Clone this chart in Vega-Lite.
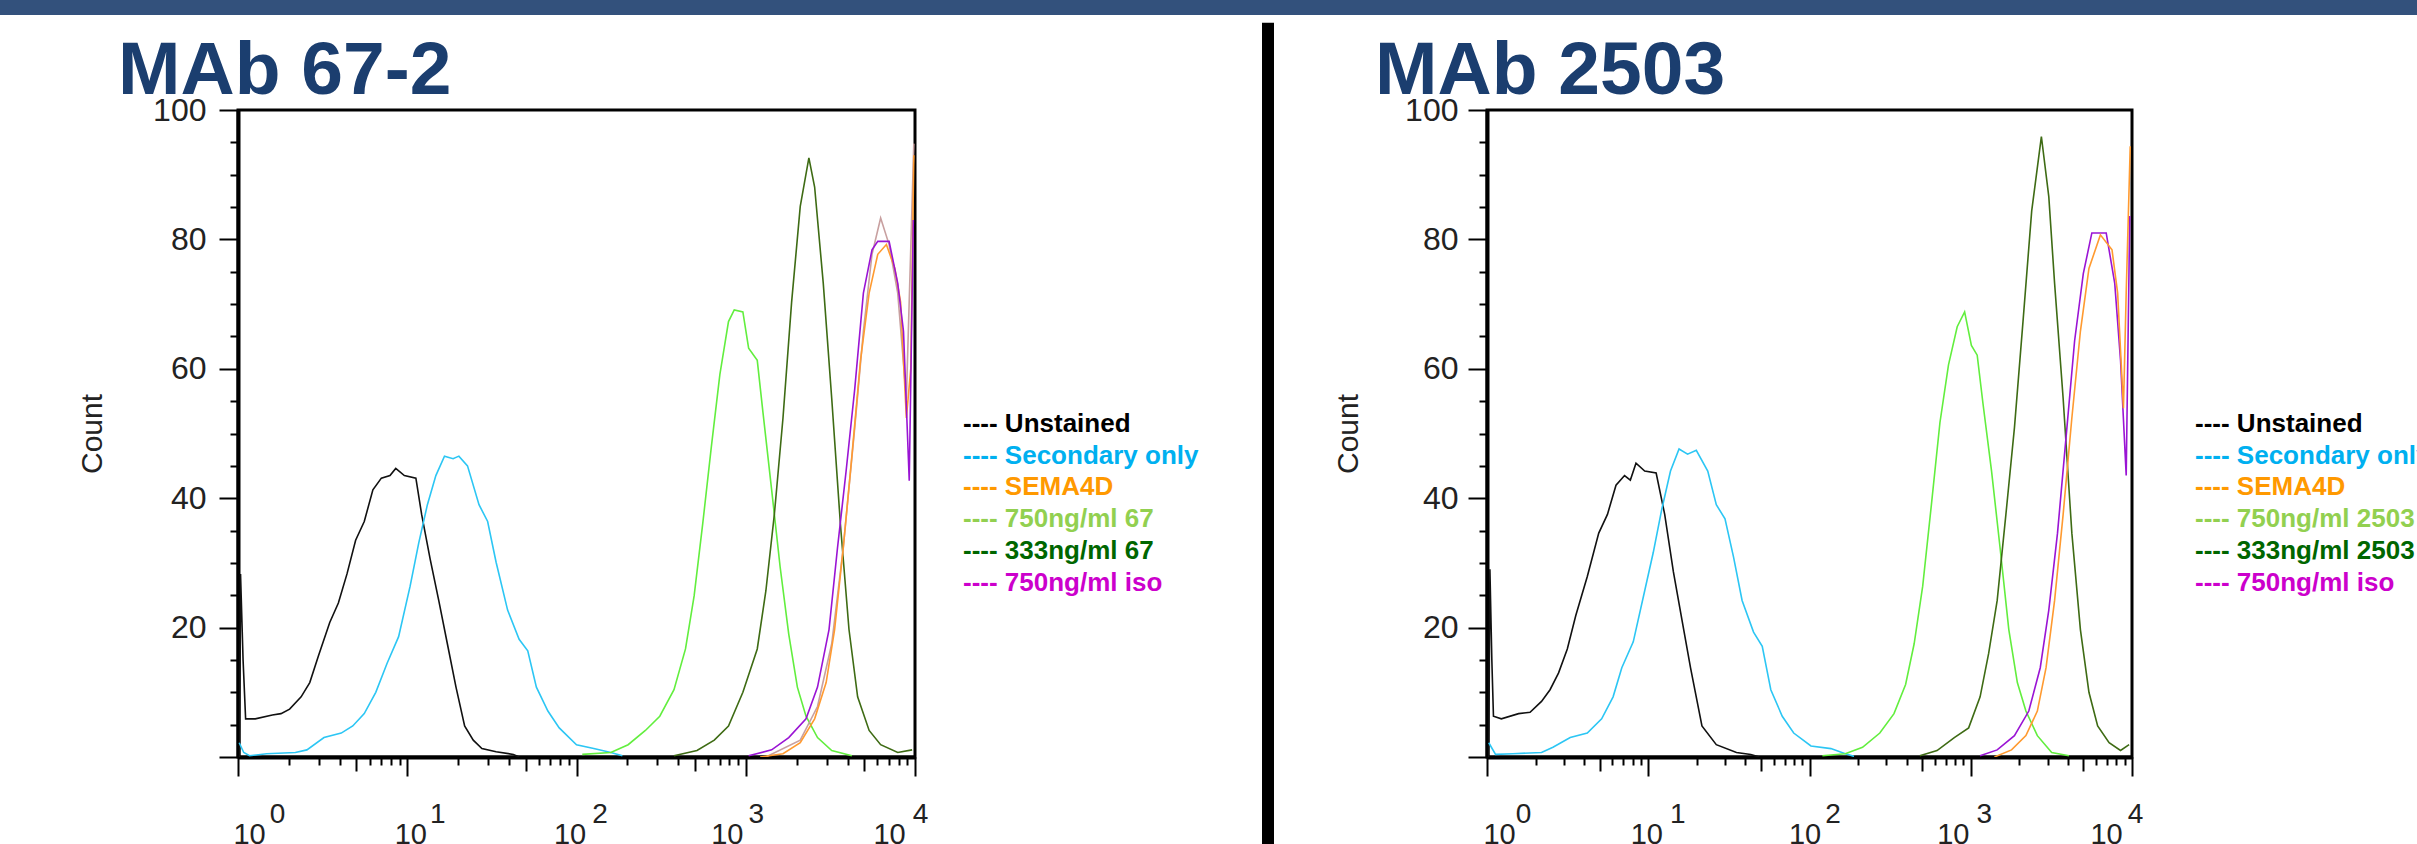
{
  "$schema": "https://vega.github.io/schema/vega-lite/v6.json",
  "padding": 0,
  "autosize": {"type": "pad"},
  "background": "white",
  "config": {
    "view": {"stroke": null},
    "font": "Liberation Sans",
    "axis": {"grid": false}
  },
  "datasets": {
    "exponents": [{"logFL": 0}, {"logFL": 1}, {"logFL": 2}, {"logFL": 3}, {"logFL": 4}],
    "left_legend": [
      {"series": "Unstained", "entry": "---- Unstained"},
      {"series": "Secondary only", "entry": "---- Secondary only"},
      {"series": "SEMA4D", "entry": "---- SEMA4D"},
      {"series": "750ng/ml 67", "entry": "---- 750ng/ml 67"},
      {"series": "333ng/ml 67", "entry": "---- 333ng/ml 67"},
      {"series": "750ng/ml iso", "entry": "---- 750ng/ml iso"}
    ],
    "right_legend": [
      {"series": "Unstained", "entry": "---- Unstained"},
      {"series": "Secondary only", "entry": "---- Secondary only"},
      {"series": "SEMA4D", "entry": "---- SEMA4D"},
      {"series": "750ng/ml 2503", "entry": "---- 750ng/ml 2503"},
      {"series": "333ng/ml 2503", "entry": "---- 333ng/ml 2503"},
      {"series": "750ng/ml iso", "entry": "---- 750ng/ml iso"}
    ],
    "left_curves": [
      {"series": "Unstained", "logFL": 0.010, "count": 0},
      {"series": "Unstained", "logFL": 0.015, "count": 28.3},
      {"series": "Unstained", "logFL": 0.030, "count": 15.0},
      {"series": "Unstained", "logFL": 0.045, "count": 5.9},
      {"series": "Unstained", "logFL": 0.102, "count": 5.9},
      {"series": "Unstained", "logFL": 0.203, "count": 6.5},
      {"series": "Unstained", "logFL": 0.254, "count": 6.7},
      {"series": "Unstained", "logFL": 0.305, "count": 7.4},
      {"series": "Unstained", "logFL": 0.373, "count": 9.3},
      {"series": "Unstained", "logFL": 0.424, "count": 11.5},
      {"series": "Unstained", "logFL": 0.475, "count": 15.6},
      {"series": "Unstained", "logFL": 0.542, "count": 20.8},
      {"series": "Unstained", "logFL": 0.593, "count": 23.8},
      {"series": "Unstained", "logFL": 0.644, "count": 28.3},
      {"series": "Unstained", "logFL": 0.695, "count": 33.5},
      {"series": "Unstained", "logFL": 0.746, "count": 36.4},
      {"series": "Unstained", "logFL": 0.797, "count": 41.3},
      {"series": "Unstained", "logFL": 0.847, "count": 43.1},
      {"series": "Unstained", "logFL": 0.898, "count": 43.5},
      {"series": "Unstained", "logFL": 0.932, "count": 44.6},
      {"series": "Unstained", "logFL": 0.983, "count": 43.5},
      {"series": "Unstained", "logFL": 1.051, "count": 43.1},
      {"series": "Unstained", "logFL": 1.085, "count": 37.5},
      {"series": "Unstained", "logFL": 1.136, "count": 30.5},
      {"series": "Unstained", "logFL": 1.186, "count": 24.2},
      {"series": "Unstained", "logFL": 1.237, "count": 17.5},
      {"series": "Unstained", "logFL": 1.288, "count": 10.8},
      {"series": "Unstained", "logFL": 1.339, "count": 4.8},
      {"series": "Unstained", "logFL": 1.390, "count": 2.6},
      {"series": "Unstained", "logFL": 1.441, "count": 1.3},
      {"series": "Unstained", "logFL": 1.525, "count": 0.8},
      {"series": "Unstained", "logFL": 1.627, "count": 0.4},
      {"series": "Unstained", "logFL": 1.661, "count": 0},
      {"series": "Secondary only", "logFL": 0.007, "count": 2.2},
      {"series": "Secondary only", "logFL": 0.034, "count": 0.7},
      {"series": "Secondary only", "logFL": 0.068, "count": 0.2},
      {"series": "Secondary only", "logFL": 0.169, "count": 0.5},
      {"series": "Secondary only", "logFL": 0.339, "count": 0.7},
      {"series": "Secondary only", "logFL": 0.407, "count": 1.1},
      {"series": "Secondary only", "logFL": 0.508, "count": 3.0},
      {"series": "Secondary only", "logFL": 0.610, "count": 3.7},
      {"series": "Secondary only", "logFL": 0.678, "count": 4.8},
      {"series": "Secondary only", "logFL": 0.746, "count": 6.7},
      {"series": "Secondary only", "logFL": 0.814, "count": 10.0},
      {"series": "Secondary only", "logFL": 0.881, "count": 14.5},
      {"series": "Secondary only", "logFL": 0.949, "count": 18.6},
      {"series": "Secondary only", "logFL": 1.017, "count": 26.4},
      {"series": "Secondary only", "logFL": 1.068, "count": 33.1},
      {"series": "Secondary only", "logFL": 1.119, "count": 39.0},
      {"series": "Secondary only", "logFL": 1.169, "count": 43.5},
      {"series": "Secondary only", "logFL": 1.220, "count": 46.5},
      {"series": "Secondary only", "logFL": 1.271, "count": 46.1},
      {"series": "Secondary only", "logFL": 1.305, "count": 46.5},
      {"series": "Secondary only", "logFL": 1.356, "count": 45.0},
      {"series": "Secondary only", "logFL": 1.424, "count": 39.0},
      {"series": "Secondary only", "logFL": 1.475, "count": 36.4},
      {"series": "Secondary only", "logFL": 1.525, "count": 30.1},
      {"series": "Secondary only", "logFL": 1.593, "count": 22.7},
      {"series": "Secondary only", "logFL": 1.661, "count": 18.2},
      {"series": "Secondary only", "logFL": 1.712, "count": 16.4},
      {"series": "Secondary only", "logFL": 1.763, "count": 10.8},
      {"series": "Secondary only", "logFL": 1.831, "count": 7.1},
      {"series": "Secondary only", "logFL": 1.898, "count": 4.5},
      {"series": "Secondary only", "logFL": 2.000, "count": 1.9},
      {"series": "Secondary only", "logFL": 2.102, "count": 1.3},
      {"series": "Secondary only", "logFL": 2.203, "count": 0.7},
      {"series": "Secondary only", "logFL": 2.271, "count": 0.2},
      {"series": "750ng/ml 67", "logFL": 2.034, "count": 0.4},
      {"series": "750ng/ml 67", "logFL": 2.203, "count": 0.7},
      {"series": "750ng/ml 67", "logFL": 2.305, "count": 1.9},
      {"series": "750ng/ml 67", "logFL": 2.407, "count": 4.1},
      {"series": "750ng/ml 67", "logFL": 2.492, "count": 6.3},
      {"series": "750ng/ml 67", "logFL": 2.576, "count": 10.4},
      {"series": "750ng/ml 67", "logFL": 2.644, "count": 16.7},
      {"series": "750ng/ml 67", "logFL": 2.695, "count": 24.9},
      {"series": "750ng/ml 67", "logFL": 2.746, "count": 36.1},
      {"series": "750ng/ml 67", "logFL": 2.797, "count": 48.0},
      {"series": "750ng/ml 67", "logFL": 2.847, "count": 59.1},
      {"series": "750ng/ml 67", "logFL": 2.898, "count": 67.3},
      {"series": "750ng/ml 67", "logFL": 2.932, "count": 69.1},
      {"series": "750ng/ml 67", "logFL": 2.983, "count": 68.8},
      {"series": "750ng/ml 67", "logFL": 3.017, "count": 63.2},
      {"series": "750ng/ml 67", "logFL": 3.068, "count": 61.3},
      {"series": "750ng/ml 67", "logFL": 3.102, "count": 53.2},
      {"series": "750ng/ml 67", "logFL": 3.153, "count": 41.3},
      {"series": "750ng/ml 67", "logFL": 3.203, "count": 29.4},
      {"series": "750ng/ml 67", "logFL": 3.254, "count": 19.0},
      {"series": "750ng/ml 67", "logFL": 3.305, "count": 10.8},
      {"series": "750ng/ml 67", "logFL": 3.356, "count": 6.3},
      {"series": "750ng/ml 67", "logFL": 3.424, "count": 3.0},
      {"series": "750ng/ml 67", "logFL": 3.508, "count": 1.0},
      {"series": "750ng/ml 67", "logFL": 3.627, "count": 0.2},
      {"series": "333ng/ml 67", "logFL": 2.576, "count": 0.2},
      {"series": "333ng/ml 67", "logFL": 2.712, "count": 1.0},
      {"series": "333ng/ml 67", "logFL": 2.814, "count": 2.6},
      {"series": "333ng/ml 67", "logFL": 2.898, "count": 4.8},
      {"series": "333ng/ml 67", "logFL": 2.983, "count": 10.0},
      {"series": "333ng/ml 67", "logFL": 3.068, "count": 16.7},
      {"series": "333ng/ml 67", "logFL": 3.119, "count": 25.7},
      {"series": "333ng/ml 67", "logFL": 3.169, "count": 37.5},
      {"series": "333ng/ml 67", "logFL": 3.220, "count": 52.4},
      {"series": "333ng/ml 67", "logFL": 3.271, "count": 70.3},
      {"series": "333ng/ml 67", "logFL": 3.322, "count": 85.1},
      {"series": "333ng/ml 67", "logFL": 3.373, "count": 92.6},
      {"series": "333ng/ml 67", "logFL": 3.407, "count": 88.1},
      {"series": "333ng/ml 67", "logFL": 3.458, "count": 73.2},
      {"series": "333ng/ml 67", "logFL": 3.508, "count": 55.4},
      {"series": "333ng/ml 67", "logFL": 3.559, "count": 36.1},
      {"series": "333ng/ml 67", "logFL": 3.610, "count": 19.7},
      {"series": "333ng/ml 67", "logFL": 3.661, "count": 9.3},
      {"series": "333ng/ml 67", "logFL": 3.729, "count": 4.1},
      {"series": "333ng/ml 67", "logFL": 3.797, "count": 1.9},
      {"series": "333ng/ml 67", "logFL": 3.898, "count": 0.7},
      {"series": "333ng/ml 67", "logFL": 3.983, "count": 1.1},
      {"series": "Other", "logFL": 3.119, "count": 0},
      {"series": "Other", "logFL": 3.322, "count": 2.6},
      {"series": "Other", "logFL": 3.424, "count": 7.8},
      {"series": "Other", "logFL": 3.508, "count": 17.5},
      {"series": "Other", "logFL": 3.576, "count": 32.3},
      {"series": "Other", "logFL": 3.644, "count": 50.9},
      {"series": "Other", "logFL": 3.695, "count": 65.8},
      {"series": "Other", "logFL": 3.746, "count": 77.7},
      {"series": "Other", "logFL": 3.797, "count": 83.3},
      {"series": "Other", "logFL": 3.847, "count": 79.2},
      {"series": "Other", "logFL": 3.898, "count": 71.7},
      {"series": "Other", "logFL": 3.949, "count": 55.4},
      {"series": "Other", "logFL": 3.993, "count": 94.8},
      {"series": "SEMA4D", "logFL": 3.085, "count": 0},
      {"series": "SEMA4D", "logFL": 3.220, "count": 0.5},
      {"series": "SEMA4D", "logFL": 3.322, "count": 2.2},
      {"series": "SEMA4D", "logFL": 3.407, "count": 5.9},
      {"series": "SEMA4D", "logFL": 3.475, "count": 11.5},
      {"series": "SEMA4D", "logFL": 3.525, "count": 19.7},
      {"series": "SEMA4D", "logFL": 3.576, "count": 32.3},
      {"series": "SEMA4D", "logFL": 3.627, "count": 46.5},
      {"series": "SEMA4D", "logFL": 3.678, "count": 61.3},
      {"series": "SEMA4D", "logFL": 3.729, "count": 71.7},
      {"series": "SEMA4D", "logFL": 3.780, "count": 77.7},
      {"series": "SEMA4D", "logFL": 3.831, "count": 79.2},
      {"series": "SEMA4D", "logFL": 3.881, "count": 75.5},
      {"series": "SEMA4D", "logFL": 3.915, "count": 70.3},
      {"series": "SEMA4D", "logFL": 3.949, "count": 52.4},
      {"series": "SEMA4D", "logFL": 3.975, "count": 60.0},
      {"series": "SEMA4D", "logFL": 3.993, "count": 93.0},
      {"series": "750ng/ml iso", "logFL": 3.017, "count": 0.2},
      {"series": "750ng/ml iso", "logFL": 3.153, "count": 1.1},
      {"series": "750ng/ml iso", "logFL": 3.254, "count": 3.0},
      {"series": "750ng/ml iso", "logFL": 3.356, "count": 5.9},
      {"series": "750ng/ml iso", "logFL": 3.424, "count": 10.8},
      {"series": "750ng/ml iso", "logFL": 3.492, "count": 19.7},
      {"series": "750ng/ml iso", "logFL": 3.542, "count": 32.3},
      {"series": "750ng/ml iso", "logFL": 3.593, "count": 44.2},
      {"series": "750ng/ml iso", "logFL": 3.644, "count": 56.9},
      {"series": "750ng/ml iso", "logFL": 3.695, "count": 71.7},
      {"series": "750ng/ml iso", "logFL": 3.746, "count": 78.4},
      {"series": "750ng/ml iso", "logFL": 3.780, "count": 79.7},
      {"series": "750ng/ml iso", "logFL": 3.847, "count": 79.7},
      {"series": "750ng/ml iso", "logFL": 3.898, "count": 73.2},
      {"series": "750ng/ml iso", "logFL": 3.932, "count": 65.8},
      {"series": "750ng/ml iso", "logFL": 3.966, "count": 42.7},
      {"series": "750ng/ml iso", "logFL": 3.990, "count": 83.0}
    ],
    "right_curves": [
      {"series": "Unstained", "logFL": 0.011, "count": 0},
      {"series": "Unstained", "logFL": 0.018, "count": 29.0},
      {"series": "Unstained", "logFL": 0.030, "count": 15.0},
      {"series": "Unstained", "logFL": 0.040, "count": 6.3},
      {"series": "Unstained", "logFL": 0.089, "count": 5.9},
      {"series": "Unstained", "logFL": 0.196, "count": 6.7},
      {"series": "Unstained", "logFL": 0.267, "count": 6.9},
      {"series": "Unstained", "logFL": 0.338, "count": 8.6},
      {"series": "Unstained", "logFL": 0.391, "count": 10.4},
      {"series": "Unstained", "logFL": 0.444, "count": 13.0},
      {"series": "Unstained", "logFL": 0.498, "count": 16.7},
      {"series": "Unstained", "logFL": 0.551, "count": 21.9},
      {"series": "Unstained", "logFL": 0.622, "count": 27.9},
      {"series": "Unstained", "logFL": 0.693, "count": 34.6},
      {"series": "Unstained", "logFL": 0.747, "count": 37.5},
      {"series": "Unstained", "logFL": 0.800, "count": 42.0},
      {"series": "Unstained", "logFL": 0.853, "count": 43.5},
      {"series": "Unstained", "logFL": 0.889, "count": 42.8},
      {"series": "Unstained", "logFL": 0.924, "count": 45.4},
      {"series": "Unstained", "logFL": 0.978, "count": 44.2},
      {"series": "Unstained", "logFL": 1.049, "count": 43.9},
      {"series": "Unstained", "logFL": 1.102, "count": 37.5},
      {"series": "Unstained", "logFL": 1.156, "count": 28.6},
      {"series": "Unstained", "logFL": 1.209, "count": 21.2},
      {"series": "Unstained", "logFL": 1.262, "count": 13.8},
      {"series": "Unstained", "logFL": 1.333, "count": 4.8},
      {"series": "Unstained", "logFL": 1.422, "count": 1.9},
      {"series": "Unstained", "logFL": 1.547, "count": 0.7},
      {"series": "Unstained", "logFL": 1.636, "count": 0.4},
      {"series": "Unstained", "logFL": 1.689, "count": 0},
      {"series": "Secondary only", "logFL": 0.011, "count": 2.2},
      {"series": "Secondary only", "logFL": 0.053, "count": 0.4},
      {"series": "Secondary only", "logFL": 0.160, "count": 0.5},
      {"series": "Secondary only", "logFL": 0.338, "count": 0.7},
      {"series": "Secondary only", "logFL": 0.409, "count": 1.5},
      {"series": "Secondary only", "logFL": 0.516, "count": 3.0},
      {"series": "Secondary only", "logFL": 0.622, "count": 3.7},
      {"series": "Secondary only", "logFL": 0.711, "count": 5.9},
      {"series": "Secondary only", "logFL": 0.782, "count": 9.3},
      {"series": "Secondary only", "logFL": 0.836, "count": 13.8},
      {"series": "Secondary only", "logFL": 0.907, "count": 17.8},
      {"series": "Secondary only", "logFL": 0.978, "count": 25.7},
      {"series": "Secondary only", "logFL": 1.031, "count": 31.6},
      {"series": "Secondary only", "logFL": 1.084, "count": 38.3},
      {"series": "Secondary only", "logFL": 1.138, "count": 44.2},
      {"series": "Secondary only", "logFL": 1.191, "count": 47.6},
      {"series": "Secondary only", "logFL": 1.244, "count": 46.8},
      {"series": "Secondary only", "logFL": 1.298, "count": 47.4},
      {"series": "Secondary only", "logFL": 1.369, "count": 44.2},
      {"series": "Secondary only", "logFL": 1.422, "count": 39.0},
      {"series": "Secondary only", "logFL": 1.476, "count": 36.8},
      {"series": "Secondary only", "logFL": 1.529, "count": 30.9},
      {"series": "Secondary only", "logFL": 1.582, "count": 24.2},
      {"series": "Secondary only", "logFL": 1.653, "count": 19.3},
      {"series": "Secondary only", "logFL": 1.707, "count": 17.1},
      {"series": "Secondary only", "logFL": 1.760, "count": 10.4},
      {"series": "Secondary only", "logFL": 1.831, "count": 6.3},
      {"series": "Secondary only", "logFL": 1.902, "count": 3.7},
      {"series": "Secondary only", "logFL": 2.009, "count": 1.7},
      {"series": "Secondary only", "logFL": 2.133, "count": 1.3},
      {"series": "Secondary only", "logFL": 2.222, "count": 0.5},
      {"series": "Secondary only", "logFL": 2.276, "count": 0.1},
      {"series": "750ng/ml 2503", "logFL": 2.080, "count": 0.2},
      {"series": "750ng/ml 2503", "logFL": 2.222, "count": 0.5},
      {"series": "750ng/ml 2503", "logFL": 2.329, "count": 1.5},
      {"series": "750ng/ml 2503", "logFL": 2.436, "count": 3.7},
      {"series": "750ng/ml 2503", "logFL": 2.524, "count": 6.7},
      {"series": "750ng/ml 2503", "logFL": 2.596, "count": 11.2},
      {"series": "750ng/ml 2503", "logFL": 2.649, "count": 17.5},
      {"series": "750ng/ml 2503", "logFL": 2.702, "count": 26.4},
      {"series": "750ng/ml 2503", "logFL": 2.756, "count": 39.0},
      {"series": "750ng/ml 2503", "logFL": 2.809, "count": 51.7},
      {"series": "750ng/ml 2503", "logFL": 2.862, "count": 60.6},
      {"series": "750ng/ml 2503", "logFL": 2.916, "count": 66.5},
      {"series": "750ng/ml 2503", "logFL": 2.962, "count": 68.8},
      {"series": "750ng/ml 2503", "logFL": 3.004, "count": 63.6},
      {"series": "750ng/ml 2503", "logFL": 3.040, "count": 62.1},
      {"series": "750ng/ml 2503", "logFL": 3.076, "count": 54.6},
      {"series": "750ng/ml 2503", "logFL": 3.129, "count": 44.2},
      {"series": "750ng/ml 2503", "logFL": 3.182, "count": 32.3},
      {"series": "750ng/ml 2503", "logFL": 3.236, "count": 19.7},
      {"series": "750ng/ml 2503", "logFL": 3.289, "count": 11.5},
      {"series": "750ng/ml 2503", "logFL": 3.342, "count": 7.1},
      {"series": "750ng/ml 2503", "logFL": 3.413, "count": 3.3},
      {"series": "750ng/ml 2503", "logFL": 3.502, "count": 0.7},
      {"series": "750ng/ml 2503", "logFL": 3.609, "count": 0.2},
      {"series": "333ng/ml 2503", "logFL": 2.684, "count": 0.2},
      {"series": "333ng/ml 2503", "logFL": 2.791, "count": 1.0},
      {"series": "333ng/ml 2503", "logFL": 2.898, "count": 3.0},
      {"series": "333ng/ml 2503", "logFL": 2.987, "count": 4.5},
      {"series": "333ng/ml 2503", "logFL": 3.058, "count": 9.3},
      {"series": "333ng/ml 2503", "logFL": 3.111, "count": 16.0},
      {"series": "333ng/ml 2503", "logFL": 3.164, "count": 24.2},
      {"series": "333ng/ml 2503", "logFL": 3.218, "count": 37.5},
      {"series": "333ng/ml 2503", "logFL": 3.271, "count": 50.9},
      {"series": "333ng/ml 2503", "logFL": 3.324, "count": 67.3},
      {"series": "333ng/ml 2503", "logFL": 3.378, "count": 84.4},
      {"series": "333ng/ml 2503", "logFL": 3.438, "count": 95.9},
      {"series": "333ng/ml 2503", "logFL": 3.484, "count": 86.6},
      {"series": "333ng/ml 2503", "logFL": 3.520, "count": 73.2},
      {"series": "333ng/ml 2503", "logFL": 3.573, "count": 55.4},
      {"series": "333ng/ml 2503", "logFL": 3.627, "count": 34.6},
      {"series": "333ng/ml 2503", "logFL": 3.680, "count": 19.7},
      {"series": "333ng/ml 2503", "logFL": 3.733, "count": 10.0},
      {"series": "333ng/ml 2503", "logFL": 3.787, "count": 4.8},
      {"series": "333ng/ml 2503", "logFL": 3.858, "count": 2.2},
      {"series": "333ng/ml 2503", "logFL": 3.929, "count": 1.0},
      {"series": "333ng/ml 2503", "logFL": 3.982, "count": 1.9},
      {"series": "750ng/ml iso", "logFL": 3.058, "count": 0.2},
      {"series": "750ng/ml iso", "logFL": 3.164, "count": 1.1},
      {"series": "750ng/ml iso", "logFL": 3.271, "count": 3.3},
      {"series": "750ng/ml iso", "logFL": 3.360, "count": 7.1},
      {"series": "750ng/ml iso", "logFL": 3.431, "count": 13.8},
      {"series": "750ng/ml iso", "logFL": 3.484, "count": 22.7},
      {"series": "750ng/ml iso", "logFL": 3.538, "count": 34.6},
      {"series": "750ng/ml iso", "logFL": 3.591, "count": 49.4},
      {"series": "750ng/ml iso", "logFL": 3.644, "count": 64.3},
      {"series": "750ng/ml iso", "logFL": 3.698, "count": 74.7},
      {"series": "750ng/ml iso", "logFL": 3.751, "count": 81.0},
      {"series": "750ng/ml iso", "logFL": 3.840, "count": 81.0},
      {"series": "750ng/ml iso", "logFL": 3.893, "count": 73.2},
      {"series": "750ng/ml iso", "logFL": 3.929, "count": 61.3},
      {"series": "750ng/ml iso", "logFL": 3.964, "count": 43.5},
      {"series": "750ng/ml iso", "logFL": 3.986, "count": 83.6},
      {"series": "SEMA4D", "logFL": 3.147, "count": 0},
      {"series": "SEMA4D", "logFL": 3.253, "count": 1.1},
      {"series": "SEMA4D", "logFL": 3.342, "count": 3.3},
      {"series": "SEMA4D", "logFL": 3.413, "count": 7.1},
      {"series": "SEMA4D", "logFL": 3.467, "count": 13.8},
      {"series": "SEMA4D", "logFL": 3.520, "count": 24.2},
      {"series": "SEMA4D", "logFL": 3.573, "count": 37.5},
      {"series": "SEMA4D", "logFL": 3.627, "count": 52.4},
      {"series": "SEMA4D", "logFL": 3.680, "count": 65.8},
      {"series": "SEMA4D", "logFL": 3.733, "count": 75.5},
      {"series": "SEMA4D", "logFL": 3.804, "count": 80.7},
      {"series": "SEMA4D", "logFL": 3.876, "count": 78.4},
      {"series": "SEMA4D", "logFL": 3.911, "count": 71.7},
      {"series": "SEMA4D", "logFL": 3.947, "count": 53.9},
      {"series": "SEMA4D", "logFL": 3.964, "count": 71.7},
      {"series": "SEMA4D", "logFL": 3.989, "count": 94.4}
    ]
  },
  "spacing": 95,
  "bounds": "flush",
  "resolve": {"scale": {"color": "independent", "x": "independent", "y": "independent"}},
  "vconcat": [
    {
      "width": 2417,
      "height": 15,
      "view": {"fill": "#33517c", "stroke": null},
      "data": {"values": []},
      "mark": "point",
      "encoding": {}
    },
    {
      "spacing": 0,
      "bounds": "flush",
      "resolve": {"scale": {"color": "independent", "x": "independent", "y": "independent"}},
      "hconcat": [
        {"width": 238, "height": 647, "data": {"values": []}, "mark": "point", "encoding": {}},
        {
          "width": 677,
          "height": 647,
          "view": {"stroke": "black", "strokeWidth": 3},
          "title": {"text": "MAb 67-2", "anchor": "start", "frame": "group", "dx": -120, "offset": -75, "baseline": "alphabetic", "font": "Liberation Sans", "fontSize": 75, "fontWeight": "bold", "color": "#1b3e6f"},
          "resolve": {"axis": {"x": "independent"}},
          "layer": [
            {
              "data": {"name": "left_curves"},
              "mark": {"type": "line", "strokeWidth": 1.6, "clip": true},
              "encoding": {
                "x": {
                  "field": "logFL", "type": "quantitative",
                  "scale": {"domain": [0, 4], "nice": false, "zero": false},
                  "axis": {
                    "orient": "bottom", "title": null,
                    "values": [0, 0.30103, 0.47712, 0.60206, 0.69897, 0.77815, 0.8451, 0.90309, 0.95424, 1, 1.30103, 1.47712, 1.60206, 1.69897, 1.77815, 1.8451, 1.90309, 1.95424, 2, 2.30103, 2.47712, 2.60206, 2.69897, 2.77815, 2.8451, 2.90309, 2.95424, 3, 3.30103, 3.47712, 3.60206, 3.69897, 3.77815, 3.8451, 3.90309, 3.95424, 4],
                    "domain": true, "domainColor": "black", "domainWidth": 4,
                    "ticks": true, "tickColor": "black", "tickWidth": 2,
                    "tickSize": {"condition": [{"test": "datum.value % 1 === 0", "value": 19}, {"test": "abs(datum.value - floor(datum.value) - 0.69897) < 0.001", "value": 14}], "value": 8},
                    "labelExpr": "datum.value % 1 === 0 ? '10' : ''",
                    "labelFont": "Liberation Sans", "labelFontSize": 29, "labelColor": "#222222",
                    "labelBaseline": "alphabetic", "labelAlign": "center", "labelPadding": 67,
                    "labelOffset": {"condition": [{"test": "datum.value === 0", "value": 11}, {"test": "datum.value === 1", "value": 3}, {"test": "datum.value === 2", "value": -7}, {"test": "datum.value === 3", "value": -19}, {"test": "datum.value === 4", "value": -26}], "value": 0},
                    "labelFlush": false, "labelOverlap": false, "labelBound": false
                  }
                },
                "y": {
                  "field": "count", "type": "quantitative",
                  "scale": {"domain": [0, 100], "nice": false, "zero": false},
                  "axis": {
                    "title": "Count", "titleFont": "Liberation Sans", "titleFontSize": 30, "titleFontWeight": "normal", "titleColor": "#222222", "titlePadding": 45,
                    "values": [0, 5, 10, 15, 20, 25, 30, 35, 40, 45, 50, 55, 60, 65, 70, 75, 80, 85, 90, 95, 100],
                    "domainColor": "black", "domainWidth": 4,
                    "tickColor": "black", "tickWidth": 2,
                    "tickSize": {"condition": {"test": "datum.value % 20 === 0", "value": 19}, "value": 8},
                    "labelExpr": "datum.value % 20 === 0 && datum.value > 0 ? datum.label : ''",
                    "labelFont": "Liberation Sans", "labelFontSize": 32, "labelColor": "#222222", "labelPadding": 13,
                    "labelOverlap": false, "labelFlush": false, "labelBound": false
                  }
                },
                "color": {
                  "field": "series", "type": "nominal",
                  "scale": {"domain": ["Unstained", "Secondary only", "750ng/ml 67", "333ng/ml 67", "Other", "SEMA4D", "750ng/ml iso"], "range": ["#111111", "#2cc6f4", "#62ee3e", "#3e6b14", "#c8a0a0", "#ff9a30", "#9a14d4"]},
                  "legend": null
                }
              }
            },
            {
              "data": {"name": "exponents"},
              "mark": {"type": "point", "opacity": 0},
              "encoding": {
                "x": {
                  "field": "logFL", "type": "quantitative",
                  "axis": {
                    "orient": "bottom", "title": null, "values": [0, 1, 2, 3, 4],
                    "domain": false, "ticks": false, "tickSize": 0,
                    "labelFont": "Liberation Sans", "labelFontSize": 28, "labelColor": "#222222",
                    "labelBaseline": "alphabetic", "labelAlign": "center", "labelPadding": 65,
                    "labelOffset": {"condition": [{"test": "datum.value === 0", "value": 39}, {"test": "datum.value === 1", "value": 30}, {"test": "datum.value === 2", "value": 23}, {"test": "datum.value === 3", "value": 10}, {"test": "datum.value === 4", "value": 5}], "value": 0},
                    "labelFlush": false, "labelOverlap": false, "labelBound": false
                  }
                }
              }
            }
          ]
        },
        {
          "width": 347,
          "height": 647,
          "data": {"name": "left_legend"},
          "mark": {"type": "text", "align": "left", "baseline": "alphabetic", "font": "Liberation Sans", "fontWeight": "bold", "fontSize": 26},
          "encoding": {
            "x": {"datum": 0, "type": "quantitative", "scale": {"domain": [0, 1], "range": [48, 347]}, "axis": null},
            "y": {"field": "series", "type": "nominal", "sort": null, "scale": {"type": "point", "padding": 0, "domain": ["Unstained", "Secondary only", "SEMA4D", "750ng/ml 67", "333ng/ml 67", "750ng/ml iso"], "range": [321.7, 480.8]}, "axis": null},
            "text": {"field": "entry"},
            "color": {"field": "series", "type": "nominal", "scale": {"domain": ["Unstained", "Secondary only", "SEMA4D", "750ng/ml 67", "333ng/ml 67", "750ng/ml iso"], "range": ["#000000", "#00b0f0", "#ff9900", "#92d050", "#006600", "#cc00cc"]}, "legend": null}
          }
        },
        {
          "width": 12,
          "height": 647,
          "data": {"values": [{}]},
          "mark": {"type": "rect", "color": "black"},
          "encoding": {
            "x": {"datum": 0, "type": "quantitative", "scale": {"domain": [0, 1]}, "axis": null},
            "x2": {"datum": 1},
            "y": {"datum": -15, "type": "quantitative", "scale": {"domain": [0, 100]}, "axis": null},
            "y2": {"datum": 113.5}
          }
        },
        {"width": 213, "height": 647, "data": {"values": []}, "mark": "point", "encoding": {}},
        {
          "width": 645,
          "height": 647,
          "view": {"stroke": "black", "strokeWidth": 3},
          "title": {"text": "MAb 2503", "anchor": "start", "frame": "group", "dx": -112, "offset": -75, "baseline": "alphabetic", "font": "Liberation Sans", "fontSize": 75, "fontWeight": "bold", "color": "#1b3e6f"},
          "resolve": {"axis": {"x": "independent"}},
          "layer": [
            {
              "data": {"name": "right_curves"},
              "mark": {"type": "line", "strokeWidth": 1.6, "clip": true},
              "encoding": {
                "x": {
                  "field": "logFL", "type": "quantitative",
                  "scale": {"domain": [0, 4], "nice": false, "zero": false},
                  "axis": {
                    "orient": "bottom", "title": null,
                    "values": [0, 0.30103, 0.47712, 0.60206, 0.69897, 0.77815, 0.8451, 0.90309, 0.95424, 1, 1.30103, 1.47712, 1.60206, 1.69897, 1.77815, 1.8451, 1.90309, 1.95424, 2, 2.30103, 2.47712, 2.60206, 2.69897, 2.77815, 2.8451, 2.90309, 2.95424, 3, 3.30103, 3.47712, 3.60206, 3.69897, 3.77815, 3.8451, 3.90309, 3.95424, 4],
                    "domain": true, "domainColor": "black", "domainWidth": 4,
                    "ticks": true, "tickColor": "black", "tickWidth": 2,
                    "tickSize": {"condition": [{"test": "datum.value % 1 === 0", "value": 19}, {"test": "abs(datum.value - floor(datum.value) - 0.69897) < 0.001", "value": 14}], "value": 8},
                    "labelExpr": "datum.value % 1 === 0 ? '10' : ''",
                    "labelFont": "Liberation Sans", "labelFontSize": 29, "labelColor": "#222222",
                    "labelBaseline": "alphabetic", "labelAlign": "center", "labelPadding": 67,
                    "labelOffset": {"condition": [{"test": "datum.value === 0", "value": 12}, {"test": "datum.value === 1", "value": -2}, {"test": "datum.value === 2", "value": -5}, {"test": "datum.value === 3", "value": -18}, {"test": "datum.value === 4", "value": -26}], "value": 0},
                    "labelFlush": false, "labelOverlap": false, "labelBound": false
                  }
                },
                "y": {
                  "field": "count", "type": "quantitative",
                  "scale": {"domain": [0, 100], "nice": false, "zero": false},
                  "axis": {
                    "title": "Count", "titleFont": "Liberation Sans", "titleFontSize": 30, "titleFontWeight": "normal", "titleColor": "#222222", "titlePadding": 41,
                    "values": [0, 5, 10, 15, 20, 25, 30, 35, 40, 45, 50, 55, 60, 65, 70, 75, 80, 85, 90, 95, 100],
                    "domainColor": "black", "domainWidth": 4,
                    "tickColor": "black", "tickWidth": 2,
                    "tickSize": {"condition": {"test": "datum.value % 20 === 0", "value": 19}, "value": 8},
                    "labelExpr": "datum.value % 20 === 0 && datum.value > 0 ? datum.label : ''",
                    "labelFont": "Liberation Sans", "labelFontSize": 32, "labelColor": "#222222", "labelPadding": 10,
                    "labelOverlap": false, "labelFlush": false, "labelBound": false
                  }
                },
                "color": {
                  "field": "series", "type": "nominal",
                  "scale": {"domain": ["Unstained", "Secondary only", "750ng/ml 2503", "333ng/ml 2503", "750ng/ml iso", "SEMA4D"], "range": ["#111111", "#2cc6f4", "#62ee3e", "#3e6b14", "#9a14d4", "#ff9a30"]},
                  "legend": null
                }
              }
            },
            {
              "data": {"name": "exponents"},
              "mark": {"type": "point", "opacity": 0},
              "encoding": {
                "x": {
                  "field": "logFL", "type": "quantitative",
                  "axis": {
                    "orient": "bottom", "title": null, "values": [0, 1, 2, 3, 4],
                    "domain": false, "ticks": false, "tickSize": 0,
                    "labelFont": "Liberation Sans", "labelFontSize": 28, "labelColor": "#222222",
                    "labelBaseline": "alphabetic", "labelAlign": "center", "labelPadding": 65,
                    "labelOffset": {"condition": [{"test": "datum.value === 0", "value": 36}, {"test": "datum.value === 1", "value": 29}, {"test": "datum.value === 2", "value": 23}, {"test": "datum.value === 3", "value": 13}, {"test": "datum.value === 4", "value": 3}], "value": 0},
                    "labelFlush": false, "labelOverlap": false, "labelBound": false
                  }
                }
              }
            }
          ]
        },
        {
          "width": 285,
          "height": 647,
          "data": {"name": "right_legend"},
          "mark": {"type": "text", "align": "left", "baseline": "alphabetic", "font": "Liberation Sans", "fontWeight": "bold", "fontSize": 26},
          "encoding": {
            "x": {"datum": 0, "type": "quantitative", "scale": {"domain": [0, 1], "range": [63, 285]}, "axis": null},
            "y": {"field": "series", "type": "nominal", "sort": null, "scale": {"type": "point", "padding": 0, "domain": ["Unstained", "Secondary only", "SEMA4D", "750ng/ml 2503", "333ng/ml 2503", "750ng/ml iso"], "range": [321.7, 480.8]}, "axis": null},
            "text": {"field": "entry"},
            "color": {"field": "series", "type": "nominal", "scale": {"domain": ["Unstained", "Secondary only", "SEMA4D", "750ng/ml 2503", "333ng/ml 2503", "750ng/ml iso"], "range": ["#000000", "#00b0f0", "#ff9900", "#92d050", "#006600", "#cc00cc"]}, "legend": null}
          }
        }
      ]
    }
  ]
}
